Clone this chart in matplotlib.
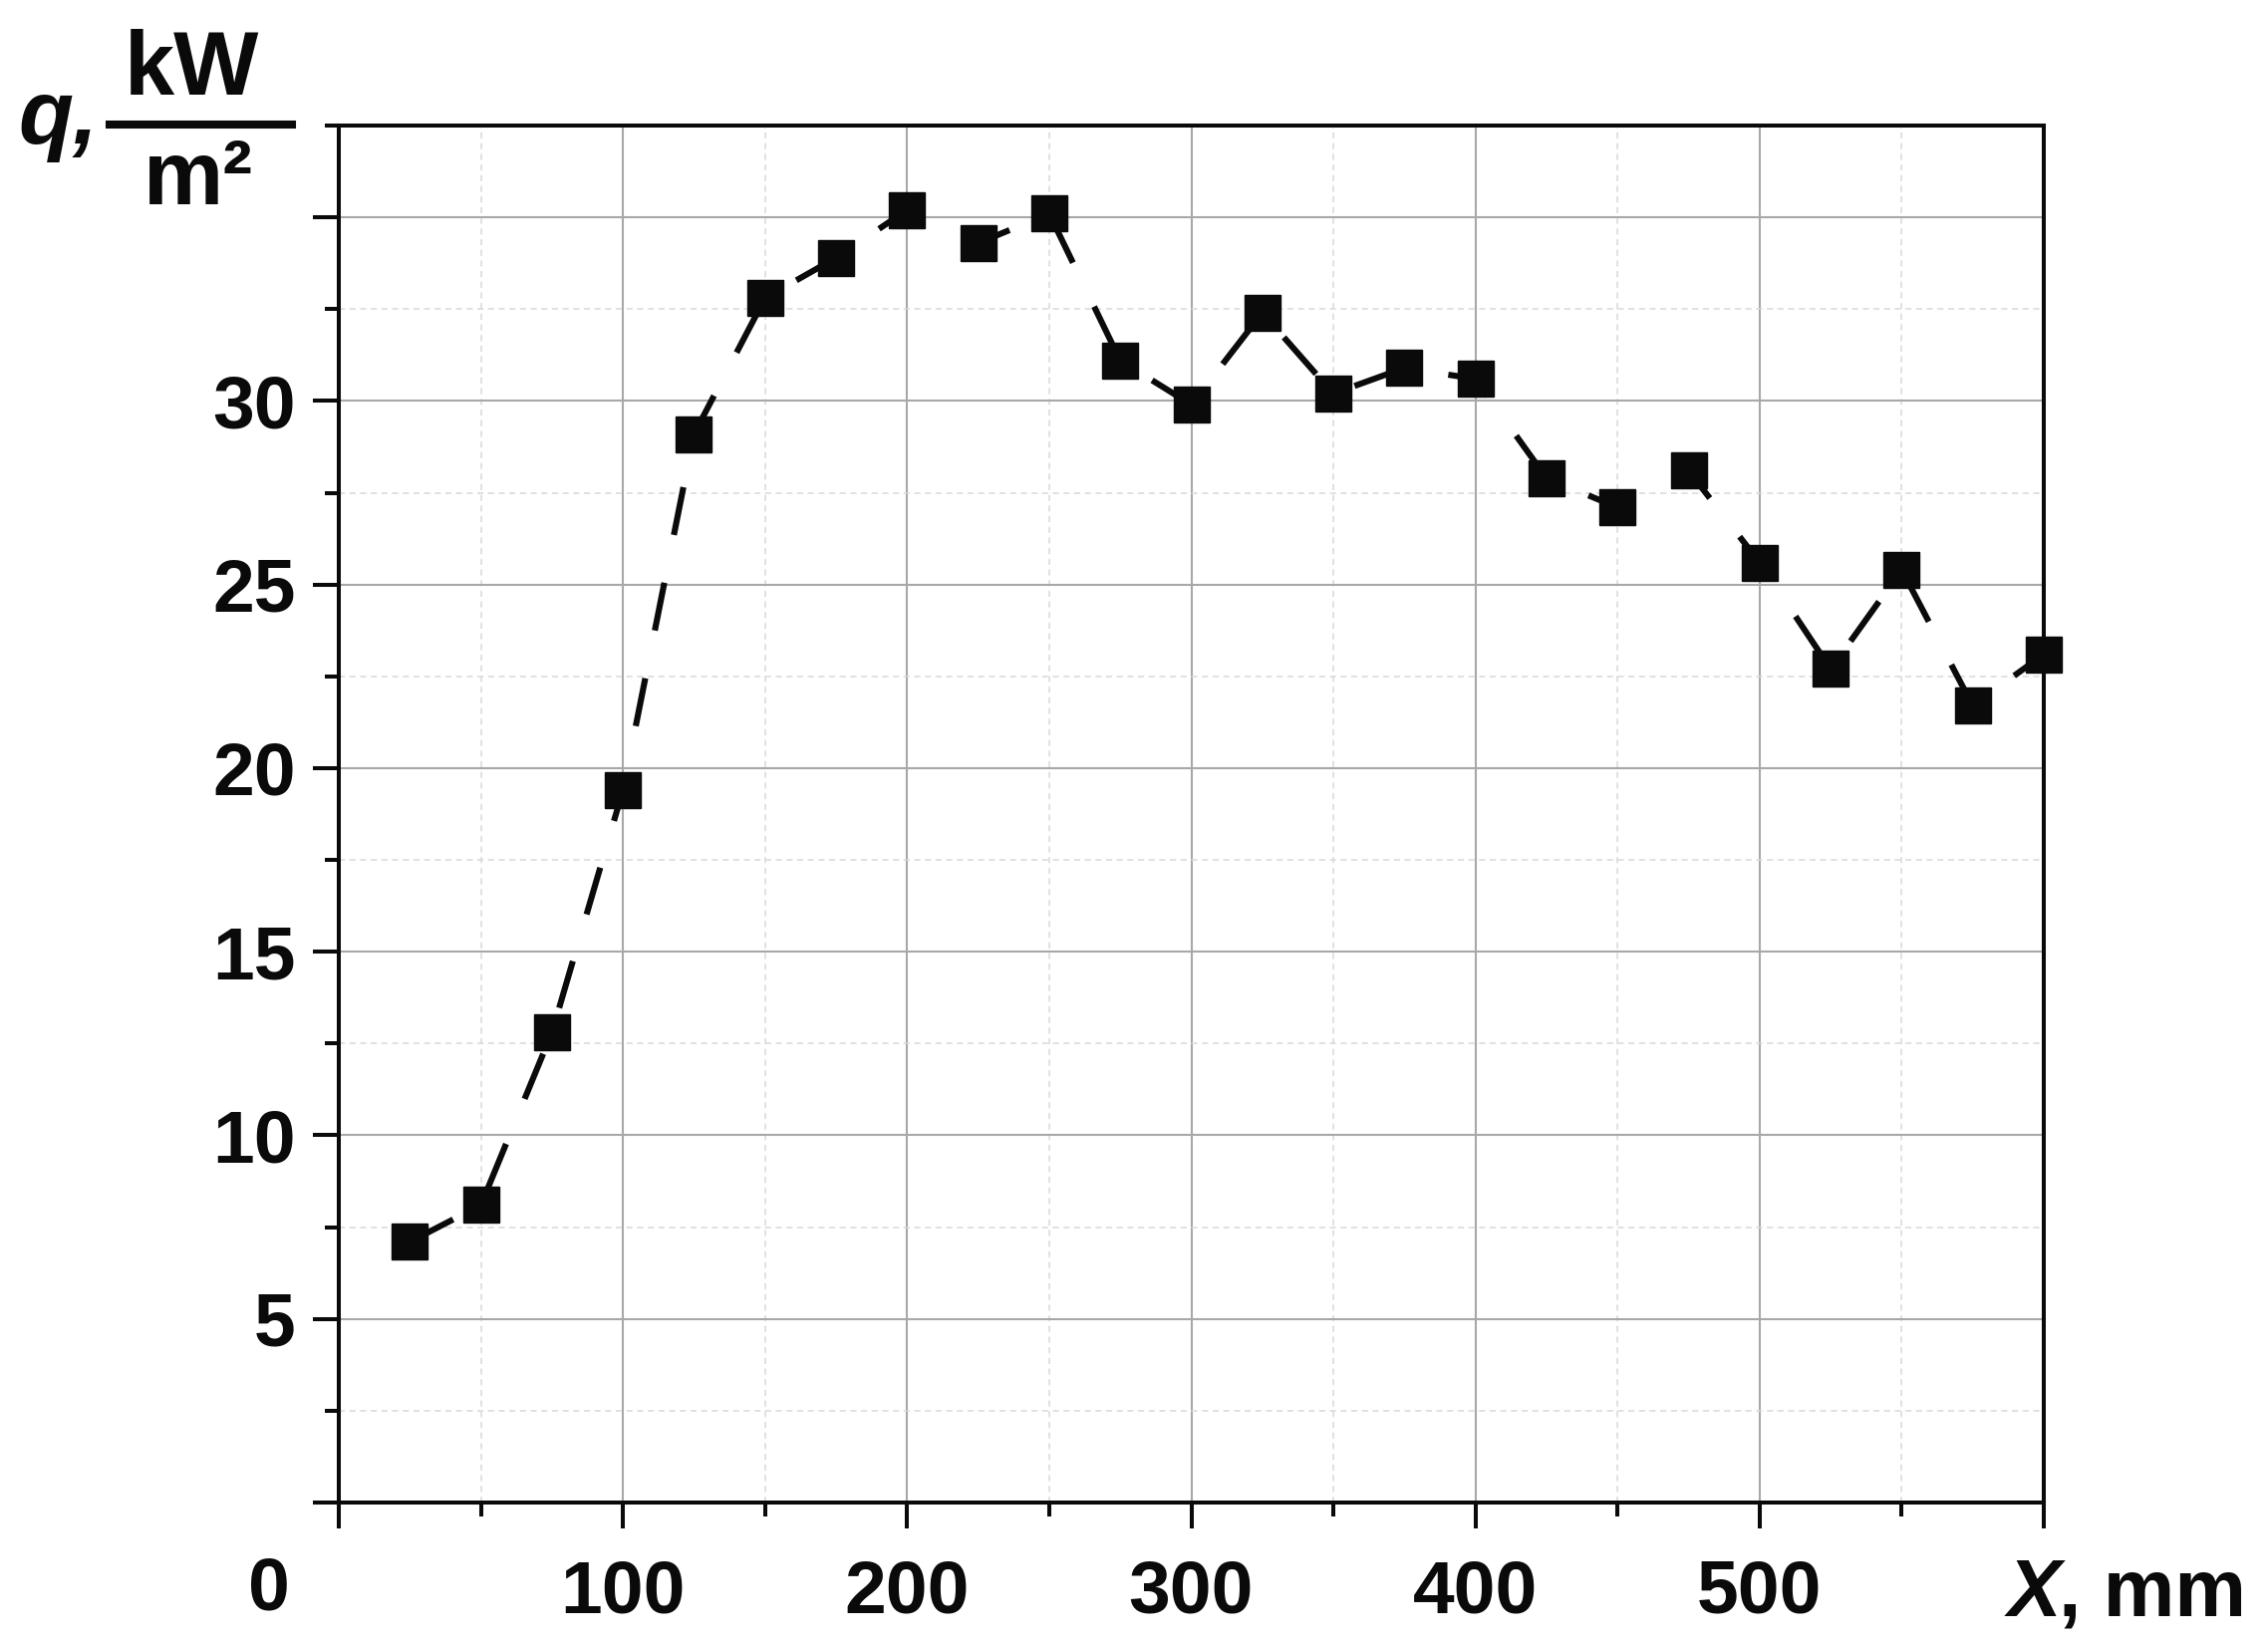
import matplotlib
matplotlib.use("Agg")
import matplotlib.pyplot as plt
from matplotlib.ticker import MultipleLocator, FuncFormatter
from matplotlib.lines import Line2D

# ---- data ----
x_mm = [25, 50, 75, 100, 125, 150, 175, 200, 225, 250, 275, 300,
        325, 350, 375, 400, 425, 450, 475, 500, 525, 550, 575, 600]
q_kw = [7.1, 8.1, 12.8, 19.4, 29.1, 32.8, 33.9, 35.2, 34.3, 35.1, 31.1, 29.9,
        32.4, 30.2, 30.9, 30.6, 27.9, 27.1, 28.1, 25.6, 22.7, 25.4, 21.7, 23.1]
x_labels = ["100", "200", "300", "400", "500"]
y_labels = ["5", "10", "15", "20", "25", "30"]

W, H = 2276, 1653
DPI = 100
plt.rcParams['font.family'] = ['Liberation Sans', 'DejaVu Sans']
plt.rcParams['font.weight'] = 'bold'

fig = plt.figure(figsize=(W / DPI, H / DPI), dpi=DPI)
L, R, T, B = 340, 2051, 126, 1508
ax = fig.add_axes([L / W, 1 - B / H, (R - L) / W, (B - T) / H])

ax.plot(x_mm, q_kw, color='#0a0a0a', lw=4.4, linestyle=(0, (8, 8)),
        dash_capstyle='butt', marker='s', ms=26, mfc='#0a0a0a',
        mec='#0a0a0a', mew=1, zorder=5, clip_on=False)

ax.set_xlim(0, 600)
ax.set_ylim(0, 37.5)
ax.xaxis.set_major_locator(MultipleLocator(100))
ax.xaxis.set_minor_locator(MultipleLocator(50))
ax.yaxis.set_major_locator(MultipleLocator(5))
ax.yaxis.set_minor_locator(MultipleLocator(2.5))

xl = {100 * (i + 1): s for i, s in enumerate(x_labels)}
yl = {5 * (i + 1): s for i, s in enumerate(y_labels)}
ax.xaxis.set_major_formatter(FuncFormatter(lambda v, p: xl.get(int(round(v)), '')))
ax.yaxis.set_major_formatter(FuncFormatter(lambda v, p: yl.get(int(round(v)), '')))

ax.grid(which='major', color='#a8a8a8', lw=1.5, ls='-', zorder=0)
ax.grid(which='minor', color='#d8d8d8', lw=1.1, ls=(0, (4, 3)), zorder=0)
ax.set_axisbelow(True)

for s in ax.spines.values():
    s.set_linewidth(2.9)
    s.set_color('#0a0a0a')

TICK_FS = 54
ax.tick_params(which='major', direction='out', length=19, width=2.9,
               color='#0a0a0a', labelsize=TICK_FS, labelcolor='#0a0a0a')
ax.tick_params(which='minor', direction='out', length=10, width=2.9,
               color='#0a0a0a')
ax.tick_params(axis='x', which='major', pad=22)
ax.tick_params(axis='y', which='major', pad=12)
for lab in ax.get_xticklabels() + ax.get_yticklabels():
    lab.set_fontweight('bold')

def fx(px):
    return px / W

def fy(py):
    return 1 - py / H

# "0" at the origin, on the x-label row
fig.text(fx(270), fy(1596), "0", fontsize=TICK_FS, fontweight='bold',
         ha='center', va='center', color='#0a0a0a')
# X, mm
fig.text(fx(2015), fy(1622), "X", fontsize=58, fontweight='bold',
         style='italic', ha='left', va='baseline', color='#0a0a0a')
fig.text(fx(2066), fy(1622), ", mm", fontsize=58, fontweight='bold',
         ha='left', va='baseline', color='#0a0a0a')

# y label: q, kW / m²
LAB_FS = 65
fig.text(fx(18), fy(144), "q,", fontsize=LAB_FS, fontweight='bold',
         style='italic', ha='left', va='baseline', color='#0a0a0a')
fig.text(fx(192), fy(95), "kW", fontsize=LAB_FS, fontweight='bold',
         ha='center', va='baseline', color='#0a0a0a')
fig.text(fx(199), fy(205), "m²", fontsize=LAB_FS, fontweight='bold',
         ha='center', va='baseline', color='#0a0a0a')
fig.add_artist(Line2D([fx(110), fx(293)], [fy(125), fy(125)],
                      transform=fig.transFigure, color='#0a0a0a', lw=5.8))

fig.savefig("out.png", dpi=DPI, facecolor='white')
